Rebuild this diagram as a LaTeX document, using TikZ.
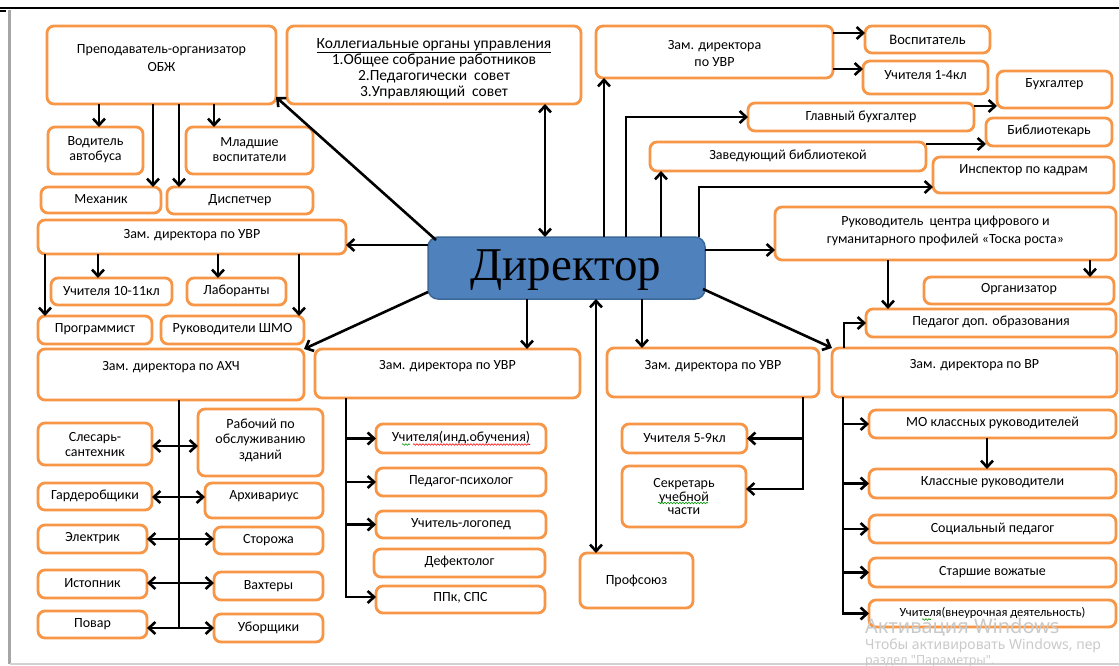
\documentclass[tikz,border=0pt]{standalone}
\usepackage{fontspec}
\setmainfont{Carlito}
\newfontfamily\dirfont{Liberation Serif}
\newfontfamily\wmfont{Noto Sans}
\usetikzlibrary{arrows.meta,decorations.pathmorphing}
\definecolor{bord}{HTML}{F79646}
\definecolor{dirfill}{HTML}{4F81BD}
\definecolor{dirline}{HTML}{3C6898}
\tikzset{
 box/.style={draw=bord, line width=2.8pt, rounded corners=7pt, fill=white, inner sep=0pt, outer sep=0pt},
 txt/.style={align=center, inner sep=0pt, font=\fontsize{14}{15}\selectfont},
 wide/.style={font=\fontsize{14}{18}\selectfont},
 conn/.style={line width=2.6pt},
 arr/.style={conn, -{Straight Barb[length=6.5pt,width=12pt]}},
 darr/.style={conn, {Straight Barb[length=6.5pt,width=12pt]}-{Straight Barb[length=6.5pt,width=12pt]}},
 wavy/.style={line width=0.6pt, decorate, decoration={snake, amplitude=0.8pt, segment length=3pt}},
 wm/.style={anchor=west, inner sep=0pt, text=gray!42},
}
\newcommand\bx[8][]{%
 \node[box, minimum width={#5-#3}, minimum height={#6-#4}] (#2) at ({(#3+#5)/2},{(#4+#6)/2}) {};
 \node[txt,#1] (#2-t) at ({(#3+#5)/2},#7) {#8};}
\begin{document}
\begin{tikzpicture}[x=1pt,y=-1pt]
\useasboundingbox (0,0) rectangle (1119,666);
% frame
\draw[line width=1.6pt] (0,8) -- (1119,8);
\draw[gray!70, line width=2.8pt] (9.5,10) -- (9.5,664);
\draw[line width=2pt] (0,11) -- (6,11);
\draw[gray!35, line width=1.2pt] (9.5,664) -- (1119,664);
% boxes
\bx[wide]{pre}{47}{26}{276}{104}{58}{Преподаватель-организатор\\ОБЖ}
\node[box, minimum width=294, minimum height=78] (kol) at (434,65) {};
\node[txt, font=\fontsize{15.5}{16}\selectfont] (kol-t) at (434,68.5) {\underline{Коллегиальные органы управления}\\1.Общее собрание работников\\2.Педагогически\ \ совет\\3.Управляющий\ \ совет};
\bx[font=\fontsize{14}{17}\selectfont]{uvra}{596}{26}{833}{78}{53.5}{Зам. директора\\по УВР}
\bx[font=\fontsize{14.5}{15}\selectfont]{vos}{865}{26}{990}{53}{40}{Воспитатель}
\bx{uchA}{863}{61}{988}{94}{75}{Учителя 1-4кл}
\bx{buh}{997}{71}{1112}{108}{84}{Бухгалтер}
\bx{gb}{748}{103}{974}{131}{117}{Главный бухгалтер}
\bx{bib}{986}{118}{1112}{146}{131}{Библиотекарь}
\bx{zav}{650}{142}{926}{171}{156}{Заведующий библиотекой}
\bx{insp}{933}{157}{1114}{193}{170}{Инспектор по кадрам}
\bx[wide]{ruk}{775}{207}{1116}{260}{231}{Руководитель\ \ центра цифрового и\\гуманитарного профилей «Тоска роста»}
\bx{org}{924}{277}{1114}{304}{289}{Организатор}
\bx{ped}{866}{309}{1116}{337}{322}{Педагог доп. образования}
\bx{vr}{832}{348}{1117}{397}{365}{Зам. директора по ВР}
\bx{vod}{48}{127}{143}{174}{150}{Водитель\\автобуса}
\bx{mlad}{186}{127}{313}{174}{150}{Младшие\\воспитатели}
\bx{mex}{41}{187}{161}{213}{199}{Механик}
\bx{disp}{167}{187}{313}{214}{200}{Диспетчер}
\bx{uvrb}{38}{220}{346}{254}{235}{Зам. директора по УВР}
\bx{uchB}{51}{278}{172}{305}{291}{Учителя 10-11кл}
\bx{lab}{187}{278}{286}{305}{291}{Лаборанты}
\bx{prog}{38}{316}{152}{344}{329}{Программист}
\bx{shmo}{161}{316}{304}{344}{329}{Руководители ШМО}
\bx{axc}{38}{349}{304}{400}{367}{Зам. директора по АХЧ}
\bx{uvrc}{315}{349}{580}{398}{366}{Зам. директора по УВР}
\bx{uvrd}{607}{348}{819}{397}{366}{Зам. директора по УВР}
\bx{sles}{38}{423}{152}{465}{445}{Слесарь-\\сантехник}
\bx[font=\fontsize{14}{15.5}\selectfont]{rab}{198}{409}{323}{476}{440}{Рабочий по\\обслуживанию\\зданий}
\bx{gard}{38}{483}{152}{510}{496}{Гардеробщики}
\bx{arx}{205}{483}{323}{518}{496}{Архивариус}
\bx{el}{38}{525}{147}{553}{538}{Электрик}
\bx{stor}{214}{527}{323}{554}{540}{Сторожа}
\bx{ist}{38}{570}{147}{598}{583}{Истопник}
\bx{vax}{214}{572}{323}{600}{586}{Вахтеры}
\bx{pov}{38}{611}{147}{638}{624}{Повар}
\bx{ubor}{214}{614}{323}{642}{628}{Уборщики}
\bx{uind}{376}{424}{546}{453}{438}{Учителя(инд.обучения)}
\bx{psy}{376}{468}{546}{496}{481}{Педагог-психолог}
\bx{log}{376}{511}{546}{538}{524}{Учитель-логопед}
\bx{def}{374}{549}{545}{577}{562}{Дефектолог}
\bx{pps}{376}{586}{545}{613}{598}{ППк, СПС}
\bx{uchC}{622}{424}{747}{453}{438}{Учителя 5-9кл}
\bx[font=\fontsize{14}{13.5}\selectfont]{sek}{622}{466}{746}{527}{497}{Секретарь\\учебной\\части}
\bx{prof}{580}{553}{693}{608}{581}{Профсоюз}
\bx{mo}{869}{410}{1116}{438}{423}{МО классных руководителей}
\bx{kl}{869}{469}{1116}{498}{482}{Классные руководители}
\bx{soc}{869}{515}{1116}{543}{529}{Социальный педагог}
\bx{st}{869}{558}{1116}{587}{572}{Старшие вожатые}
\bx[font=\fontsize{12.5}{13}\selectfont]{uvn}{869}{600}{1116}{627}{613}{Учителя(внеурочная деятельность)}
% director
\node[draw=dirline, fill=dirfill, line width=1.5pt, rounded corners=10pt, minimum width=277, minimum height=62, inner sep=0pt, outer sep=0pt] (dir) at (566.5,268) {};
\node[inner sep=0pt, font=\dirfont\fontsize{47}{47}\selectfont] (dir-t) at (566,270) {Директор};
% connectors from director
\draw[arr] ([shift={(8,3)}]dir.north west) -- ([yshift=7pt]pre.south east);
\draw[darr] (kol.south -| 545,0) -- (dir.north -| 545,0);
\draw[arr] (dir.north -| 604,0) -- (uvra.south -| 604,0);
\draw[arr] (dir.north -| 626,0) |- (gb.west);
\draw[arr] (dir.north -| 661,0) -- (zav.south -| 661,0);
\draw[arr] (dir.north -| 699,0) |- (insp.west |- 0,187);
\draw[arr] (dir.east |- 0,250) -- (ruk.west |- 0,250);
\draw[arr] ([shift={(-2,-10)}]dir.south east) -- (vr.north west);
\draw[arr] (dir.south -| 642,0) -- (uvrd.north -| 642,0);
\draw[darr] (dir.south -| 596,0) -- (prof.north -| 596,0);
\draw[arr] (dir.south -| 527,0) -- (uvrc.north -| 527,0);
\draw[arr] (dir.west |- 0,292) -- (axc.north east);
\draw[arr] (dir.west |- 0,245) -- (uvrb.east |- 0,245);
% top right
\draw[arr] (uvra.east |- 0,33) -- (vos.west |- 0,33);
\draw[arr] (uvra.east |- 0,69) -- (uchA.west |- 0,69);
\draw[arr] (gb.east |- 0,106) -- (buh.west |- 0,106);
\draw[arr] (zav.east |- 0,144) -- (bib.west |- 0,144);
\draw[arr] (ruk.south -| 888,0) -- (ped.north -| 888,0);
\draw[arr] (ruk.south -| 1090,0) -- (org.north -| 1090,0);
\draw[arr] (vr.north -| 844,0) |- (ped.west);
% top left
\draw[arr] (pre.south -| 99,0) -- (vod.north -| 99,0);
\draw[arr] (pre.south -| 153,0) -- (mex.north -| 153,0);
\draw[arr] (pre.south -| 179,0) -- (disp.north -| 179,0);
\draw[arr] (pre.south -| 214,0) -- (mlad.north -| 214,0);
\draw[arr] (uvrb.south -| 45,0) -- (prog.north -| 45,0);
\draw[arr] (uvrb.south -| 98,0) -- (uchB.north -| 98,0);
\draw[arr] (uvrb.south -| 218,0) -- (lab.north -| 218,0);
\draw[arr] (uvrb.south -| 299,0) -- (shmo.north -| 299,0);
% AXC bus
\coordinate (axcend) at (179,628);
\draw[conn] (axc.south -| 179,0) -- (axcend);
\draw[darr] (sles.east |- 0,446) -- (rab.west |- 0,446);
\draw[darr] (gard.east |- 0,497) -- (arx.west |- 0,497);
\draw[darr] (el.east |- 0,539) -- (stor.west |- 0,539);
\draw[darr] (ist.east |- 0,583) -- (vax.west |- 0,583);
\draw[darr] (pov.east |- 0,628) -- (ubor.west |- 0,628);
% UVR middle bus
\draw[arr] (uvrc.south -| 346,0) |- (pps.west |- 0,597);
\draw[arr] (uind.west -| 346,0) -- (uind.west);
\draw[arr] (psy.west -| 346,0) -- (psy.west);
\draw[arr] (log.west -| 346,0) -- (log.west);
% UVR right bus
\draw[arr] (uvrd.south -| 803,0) |- (sek.east |- 0,489);
\draw[arr] (uchC.east -| 803,0) -- (uchC.east);
% VR bus
\draw[arr] (vr.south -| 843,0) |- (uvn.west);
\draw[arr] (mo.west -| 843,0) -- (mo.west);
\draw[arr] (kl.west -| 843,0) -- (kl.west);
\draw[arr] (soc.west -| 843,0) -- (soc.west);
\draw[arr] (st.west -| 843,0) -- (st.west);
\draw[arr] (mo.south -| 987,0) -- (kl.north -| 987,0);
% spell-check marks
\draw[wavy, red] (413,444.5) -- (530,444.5);
\draw[wavy, green!60!black] (402,444.5) -- (410,444.5);
\draw[wavy, green!60!black] (658,503) -- (708,503);
\draw[wavy, green!60!black] (922,619.5) -- (931,619.5);
% watermark
\node[wm, font=\wmfont\fontsize{20}{20}\selectfont] (wm1) at (865,627) {Активация Windows};
\node[wm, font=\wmfont\fontsize{14}{14}\selectfont] (wm2) at (865,646) {Чтобы активировать Windows, пер};
\node[wm, anchor=north west, font=\wmfont\fontsize{12.5}{13}\selectfont] (wm3) at (865,655) {раздел "Параметры".};
\end{tikzpicture}
\end{document}
